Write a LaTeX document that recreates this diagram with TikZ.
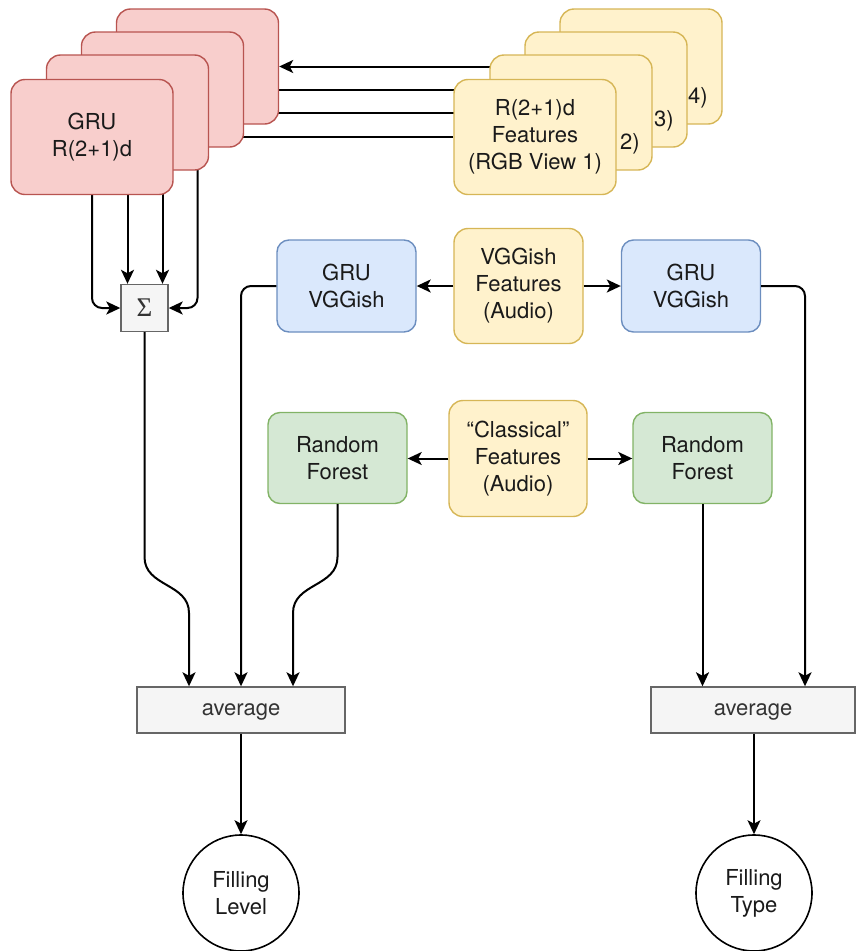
\documentclass[tikz,border=0pt]{standalone}
\usepackage{fontspec}
\setmainfont{TeX Gyre Heros}
\newfontfamily\sigmafont{Liberation Serif}
\usetikzlibrary{arrows.meta,calc}
\definecolor{redfill}{HTML}{F8CECC}\definecolor{redline}{HTML}{B85450}
\definecolor{yelfill}{HTML}{FFF2CC}\definecolor{yelline}{HTML}{D6B656}
\definecolor{bluefill}{HTML}{DAE8FC}\definecolor{blueline}{HTML}{6C8EBF}
\definecolor{grnfill}{HTML}{D5E8D4}\definecolor{grnline}{HTML}{82B366}
\definecolor{grayfill}{HTML}{F5F5F5}\definecolor{grayline}{HTML}{666666}
\definecolor{txt}{HTML}{1A1A1A}
\definecolor{graytxt}{HTML}{333333}
\pgfdeclarelayer{bg}
\pgfsetlayers{bg,main}
\begin{document}
\begin{tikzpicture}[x=1pt,y=-1pt,
  box/.style={rounded corners=14pt, line width=1.4pt, inner sep=0pt, align=center,
    font=\fontsize{22}{27}\selectfont, text=txt},
  redbox/.style={box, fill=redfill, draw=redline, minimum width=162pt, minimum height=115pt},
  yelstack/.style={box, fill=yelfill, draw=yelline, minimum width=162pt, minimum height=115pt},
  yelbox/.style={box, fill=yelfill, draw=yelline, minimum height=115pt},
  bluebox/.style={box, rounded corners=12pt, fill=bluefill, draw=blueline, minimum width=139pt, minimum height=92pt},
  grnbox/.style={box, rounded corners=12pt, fill=grnfill, draw=grnline, minimum width=139pt, minimum height=91pt},
  avgbox/.style={box, rounded corners=0pt, fill=grayfill, draw=grayline, minimum height=46pt,
    text=graytxt, text height=11pt, text depth=0pt},
  sumbox/.style={box, rounded corners=0pt, fill=grayfill, draw=grayline, minimum size=47pt,
    text=graytxt, font=\sigmafont\fontsize{27}{30}\selectfont},
  outcircle/.style={circle, draw=black, line width=1.6pt, minimum size=116pt, inner sep=0pt,
    align=center, font=\fontsize{22}{27}\selectfont, text=txt},
  numlbl/.style={inner sep=0pt, font=\fontsize{22}{27}\selectfont, text=txt},
  arr/.style={line width=2pt, draw=black, -{Stealth[length=14pt,width=13pt,inset=3.5pt]}},
]
\useasboundingbox (0,0) rectangle (856,951);

% R(2+1)d GRU stack (back to front)
\node[redbox] (red4) at (197.5,66.5) {};
\node[redbox] (red3) at (162.5,89.5) {};
\node[redbox] (red2) at (127.5,112.5) {};
\node[redbox] (red1) at (92,137) {GRU\\R(2+1)d};

% R(2+1)d feature stack, one card per RGB view
\node[yelstack] (yel4) at (641,66.5) {};
\node[numlbl] (n4) at (698,98) {4)};
\node[yelstack] (yel3) at (606,89.5) {};
\node[numlbl] (n3) at (664,121) {3)};
\node[yelstack] (yel2) at (571,112.5) {};
\node[numlbl] (n2) at (630,144) {2)};
\node[yelstack] (yel1) at (535,137) {R(2+1)d\\Features\\(RGB View 1)};

% sum over views
\node[sumbox] (sigma) at (144.5,308) {Σ};

% audio branches
\node[bluebox] (blueL) at (346.5,286) {GRU\\VGGish};
\node[yelbox, minimum width=129pt] (vgg) at (518.5,286) {VGGish\\Features\\(Audio)};
\node[bluebox] (blueR) at (691,286) {GRU\\VGGish};

\node[grnbox] (grnL) at (337.5,458) {Random\\Forest};
\node[yelbox, minimum width=138pt, minimum height=116pt] (classic) at (518,458.5) {“Classical”\\Features\\(Audio)};
\node[grnbox] (grnR) at (702.5,458) {Random\\Forest};

% fusion and outputs
\node[avgbox, minimum width=208pt] (avg1) at (241,710) {average};
\node[avgbox, minimum width=204pt] (avg2) at (753,710) {average};
\node[outcircle] (level) at (241,893) {Filling\\Level};
\node[outcircle] (type) at (754,893) {Filling\\Type};

\begin{pgfonlayer}{bg}
  % features into GRUs
  \draw[arr] (yel4.west) -- (red4.east);
  \draw[arr] (yel3.west) -- (red3.east);
  \draw[arr] (yel2.west) -- (red2.east);
  \draw[arr] (yel1.west) -- (yel1.west -| red1.east);
  % GRUs into the sum
  \draw[arr, rounded corners=10pt] (red1.south) |- (sigma.west);
  \draw[arr] (red2.south) -- (red2.south |- sigma.north);
  \draw[arr] (red3.south) -- (red3.south |- sigma.north);
  \draw[arr, rounded corners=10pt] (red4.south) |- (sigma.east);
\end{pgfonlayer}

% audio features into their models
\draw[arr] (vgg.west) -- (blueL.east);
\draw[arr] (vgg.east) -- (blueR.west);
\draw[arr] (classic.west) -- (classic.west -| grnL.east);
\draw[arr] (classic.east) -- (classic.east -| grnR.west);

% Filling Level fusion
\coordinate (a1) at ($(avg1.north)+(-52,0)$);
\coordinate (a3) at ($(avg1.north)+(52,0)$);
\draw[arr] (sigma.south) -- (sigma.south |- 0,557)
  .. controls (sigma.south |- 0,587) and (a1 |- 0,583) .. (a1 |- 0,613) -- (a1);
\draw[arr, rounded corners=10pt] (blueL.west) -| (avg1.north);
\draw[arr] (grnL.south) -- (grnL.south |- 0,557)
  .. controls (grnL.south |- 0,587) and (a3 |- 0,583) .. (a3 |- 0,613) -- (a3);

% Filling Type fusion
\coordinate (b2) at ($(avg2.north)+(52,0)$);
\draw[arr] (grnR.south) -- (grnR.south |- avg2.north);
\draw[arr, rounded corners=10pt] (blueR.east) -| (b2);

% outputs
\draw[arr] (avg1.south) -- (level.north);
\draw[arr] (avg2.south -| type.north) -- (type.north);
\end{tikzpicture}
\end{document}
